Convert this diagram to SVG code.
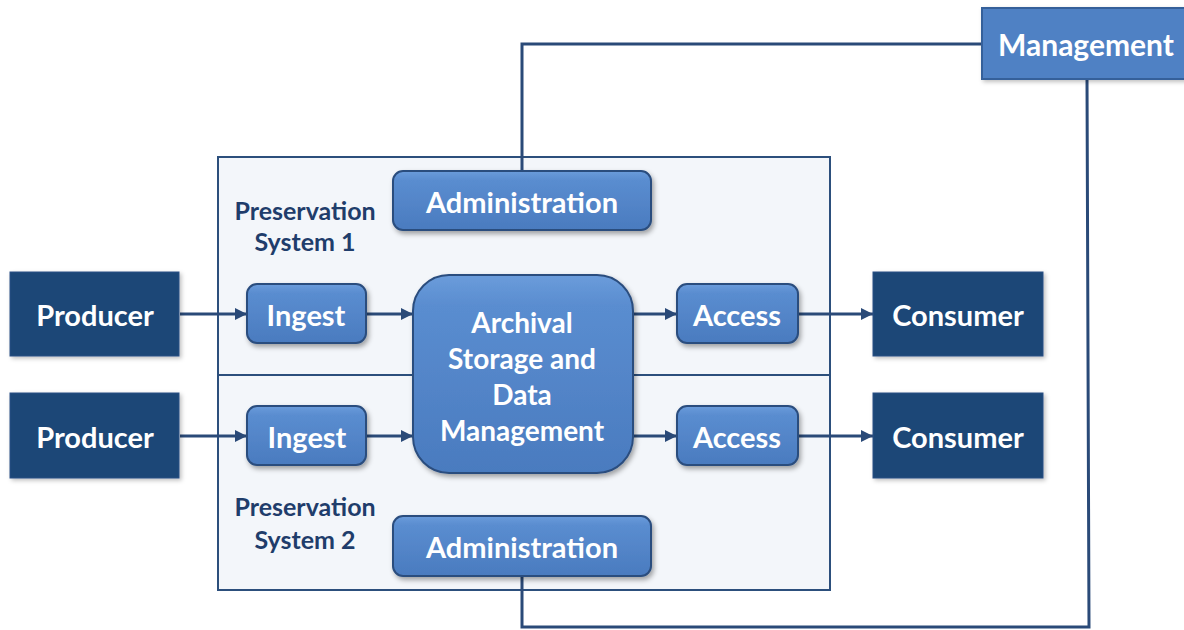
<svg xmlns="http://www.w3.org/2000/svg" width="1184" height="630" viewBox="0 0 1184 630">
<defs>
<linearGradient id="gb" x1="0" y1="0" x2="0" y2="1">
<stop offset="0" stop-color="#6b9cdb"/>
<stop offset="0.15" stop-color="#5a8dd0"/>
<stop offset="1" stop-color="#4a7bbf"/>
</linearGradient>
<filter id="sh" x="-20%" y="-20%" width="140%" height="150%">
<feDropShadow dx="2" dy="3" stdDeviation="2.5" flood-color="#000" flood-opacity="0.35"/>
</filter>
<filter id="sh2" x="-20%" y="-20%" width="140%" height="150%">
<feDropShadow dx="2" dy="2" stdDeviation="2" flood-color="#000" flood-opacity="0.25"/>
</filter>
<marker id="ar" viewBox="0 0 10 10" refX="10" refY="5" markerWidth="4" markerHeight="4" orient="auto" markerUnits="strokeWidth">
<path d="M0,0 L10,5 L0,10 z" fill="#2a4a78"/>
</marker>
<style>
.lbl{font-family:Lato,"Open Sans",sans-serif;font-weight:bold;fill:#ffffff;text-anchor:middle;dominant-baseline:central}
.sys{font-family:Lato,"Open Sans",sans-serif;font-weight:bold;fill:#1f3d6b;text-anchor:middle;font-size:25px}
.rb{fill:url(#gb);stroke:#2b4d7e;stroke-width:2;filter:url(#sh)}
.dk{fill:#1f4677;stroke:#2a5185;stroke-width:1;filter:url(#sh2)}
.cn{fill:none;stroke:#2a4a78;stroke-width:3}
.ca{fill:none;stroke:#2a4a78;stroke-width:3;marker-end:url(#ar)}
</style>
</defs>
<rect width="1184" height="630" fill="#ffffff"/>
<g id="container">
<rect x="218" y="157" width="612" height="433" fill="#f3f6fa" stroke="#2c4f7c" stroke-width="2"/>
<line x1="218" y1="375" x2="830" y2="375" stroke="#2c4f7c" stroke-width="2"/>
<text class="sys" x="305" y="220">Preservation</text>
<text class="sys" x="305" y="251">System 1</text>
<text class="sys" x="305" y="516">Preservation</text>
<text class="sys" x="305" y="549">System 2</text>
</g>
<g id="connectors">
<polyline class="cn" points="982,44 522,44 522,171"/>
<polyline class="cn" points="1087,79 1089,627 522,627 522,577"/>
<line class="ca" x1="180" y1="314" x2="247" y2="314"/>
<line class="ca" x1="367" y1="314" x2="413" y2="314"/>
<line class="ca" x1="633" y1="314" x2="677" y2="314"/>
<line class="ca" x1="798" y1="314" x2="873" y2="314"/>
<line class="ca" x1="180" y1="436" x2="247" y2="436"/>
<line class="ca" x1="367" y1="436" x2="413" y2="436"/>
<line class="ca" x1="633" y1="436" x2="677" y2="436"/>
<line class="ca" x1="798" y1="436" x2="873" y2="436"/>
</g>
<g id="management">
<rect x="982" y="8" width="210" height="71" fill="#4f81c4" stroke="#35609a" stroke-width="2" filter="url(#sh2)"/>
<text class="lbl" x="1086" y="44" font-size="30">Management</text>
</g>
<g id="admin1">
<rect class="rb" x="393" y="171" width="258" height="59" rx="10"/>
<text class="lbl" x="522" y="201" font-size="29">Administration</text>
</g>
<g id="admin2">
<rect class="rb" x="393" y="516" width="258" height="60" rx="10"/>
<text class="lbl" x="522" y="546" font-size="29">Administration</text>
</g>
<g id="producer1">
<rect class="dk" x="10" y="272" width="169" height="84"/>
<text class="lbl" x="95" y="314" font-size="29">Producer</text>
</g>
<g id="producer2">
<rect class="dk" x="10" y="393" width="169" height="85"/>
<text class="lbl" x="95" y="436" font-size="29">Producer</text>
</g>
<g id="ingest1">
<rect class="rb" x="247" y="284" width="119" height="59" rx="10"/>
<text class="lbl" x="306" y="314" font-size="29">Ingest</text>
</g>
<g id="ingest2">
<rect class="rb" x="247" y="406" width="119" height="59" rx="10"/>
<text class="lbl" x="307" y="436" font-size="29">Ingest</text>
</g>
<g id="archival">
<rect class="rb" x="413" y="275" width="220" height="198" rx="36"/>
<text class="lbl" x="522" y="322" font-size="28">Archival</text>
<text class="lbl" x="522" y="358" font-size="28">Storage and</text>
<text class="lbl" x="522" y="394" font-size="28">Data</text>
<text class="lbl" x="522" y="430" font-size="28">Management</text>
</g>
<g id="access1">
<rect class="rb" x="677" y="284" width="121" height="59" rx="10"/>
<text class="lbl" x="737" y="314" font-size="29">Access</text>
</g>
<g id="access2">
<rect class="rb" x="677" y="406" width="121" height="59" rx="10"/>
<text class="lbl" x="737" y="436" font-size="29">Access</text>
</g>
<g id="consumer1">
<rect class="dk" x="873" y="272" width="170" height="84"/>
<text class="lbl" x="958" y="314" font-size="29">Consumer</text>
</g>
<g id="consumer2">
<rect class="dk" x="873" y="393" width="170" height="85"/>
<text class="lbl" x="958" y="436" font-size="29">Consumer</text>
</g>
</svg>
